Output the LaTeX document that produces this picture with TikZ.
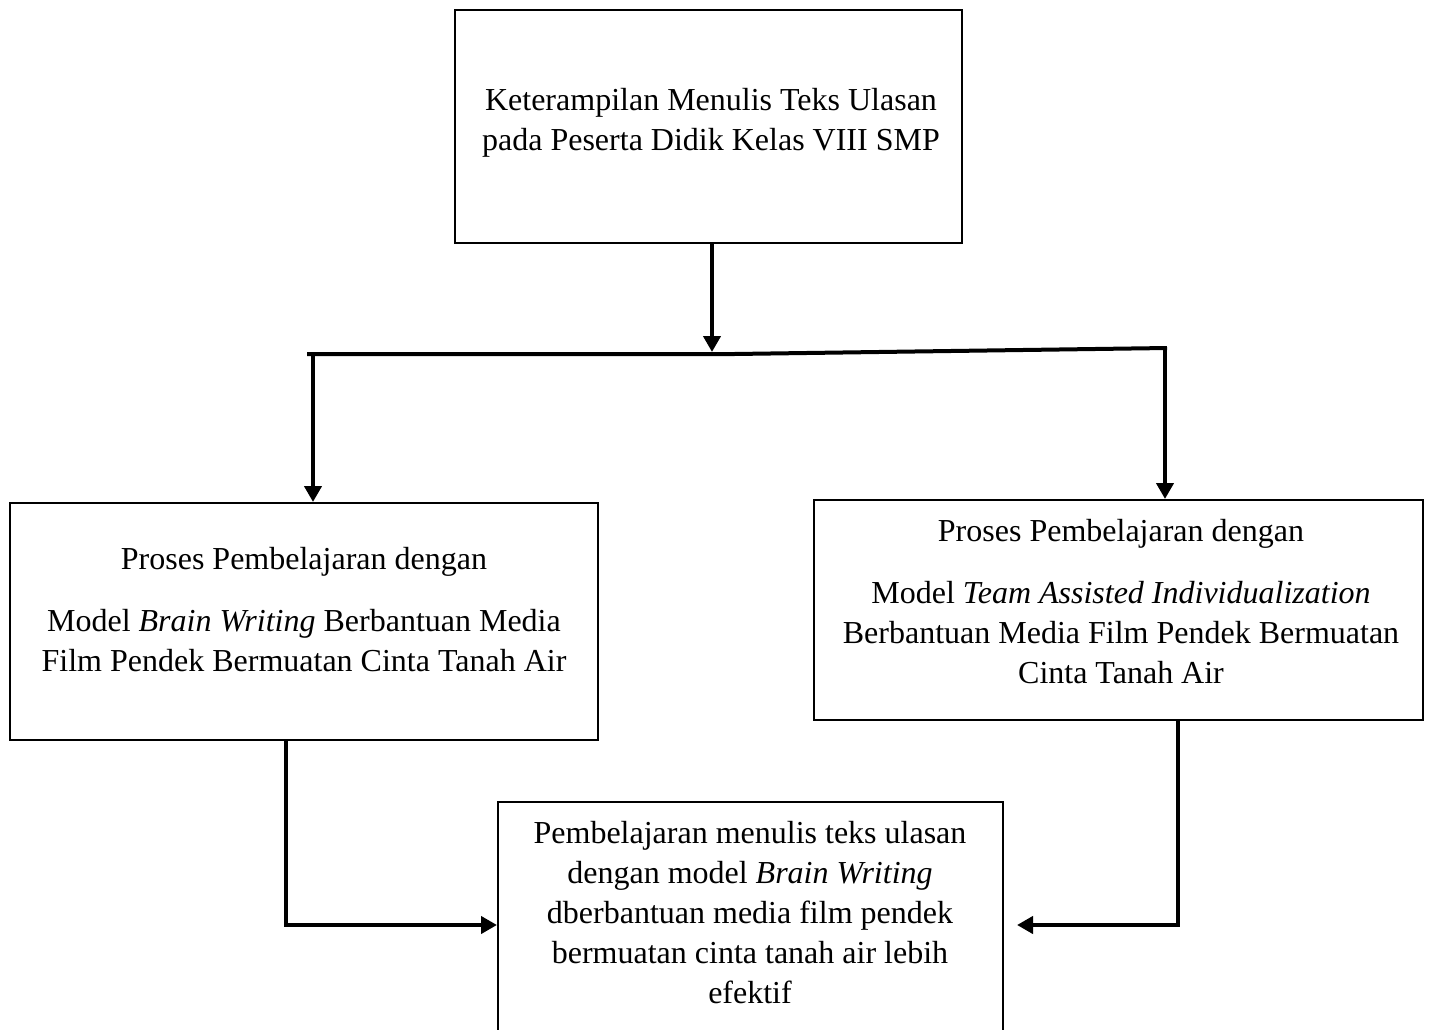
\documentclass[tikz,border=0pt]{standalone}
\usepackage{fontspec}
\setmainfont{Liberation Serif}
\usetikzlibrary{arrows.meta,calc}
\newcommand{\sline}{\strut}
\begin{document}
\begin{tikzpicture}[x=1pt,y=-1pt,
  box/.style={draw=black,line width=2pt,inner sep=0pt,fill=none},
  txt/.style={inner sep=0pt,align=center,font=\fontsize{32}{40}\selectfont},
  conn/.style={line width=4pt,line cap=butt,line join=miter},
  arr/.style={conn,-{Triangle[length=16pt,width=17pt]}}]
\useasboundingbox (0,0) rectangle (1433,1029);
\clip (0,0) rectangle (1433,1029);
\fill[white] (0,0) rectangle (1433,1029);

% boxes
\node[box,minimum width=507pt,minimum height=233pt] (t) at (708.5,126.5) {};
\node[box,minimum width=588pt,minimum height=237pt] (l) at (304,621.5) {};
\node[box,minimum width=609pt,minimum height=220pt] (r) at (1118.5,610) {};
\node[box,minimum width=505pt,minimum height=250pt] (b) at (750.5,927) {};

% texts
\node[txt] (tt) at (711,122) {\sline Keterampilan Menulis Teks Ulasan\\ \sline pada Peserta Didik Kelas VIII SMP};
\node[txt] (lt) at (304,612.5) {\sline Proses Pembelajaran dengan\\[22pt] \sline Model \textit{Brain Writing} Berbantuan Media\\ \sline Film Pendek Bermuatan Cinta Tanah Air};
\node[txt] (rt) at (1121,604) {\sline Proses Pembelajaran dengan\\[22pt] \sline Model \textit{Team Assisted Individualization}\\ \sline Berbantuan Media Film Pendek Bermuatan\\ \sline Cinta Tanah Air};
\node[txt] (bt) at (750,915) {\sline Pembelajaran menulis teks ulasan\\ \sline dengan model \textit{Brain Writing}\\ \sline dberbantuan media film pendek\\ \sline bermuatan cinta tanah air lebih\\ \sline efektif};

% junction coordinates
\coordinate (jc) at (712,352);
\coordinate (hl) at (307,354);
\coordinate (hm) at (734,354);
\coordinate (hr) at (1167,348);
\coordinate (vl) at (313,354);
\coordinate (dl) at (286,925);
\coordinate (dr) at (1178,925);
\coordinate (br) at (1017,925);

% connectors
\draw[arr] (t.south -| jc) -- (jc);
\draw[conn] (hl) -- (hm) -- (hr);
\draw[arr] (vl) -- (l.north -| vl);
\draw[arr] ([yshift=-2pt]hr -| 1165,0) -- (r.north -| 1165,0);
\draw[arr] (l.south -| dl) -- (dl) -- (b.west |- dl);
\draw[arr] (r.south -| dr) -- (dr) -- (br);
\end{tikzpicture}
\end{document}
